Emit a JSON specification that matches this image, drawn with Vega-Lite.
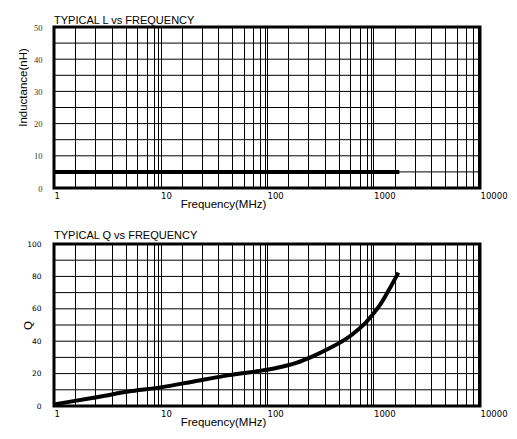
{
  "$schema": "https://vega.github.io/schema/vega-lite/v6.json",
  "background": "white",
  "padding": {"left": 15, "top": 13, "right": 5, "bottom": 5},
  "spacing": 16,
  "datasets": {
    "L": [{"f": 1, "L": 5}, {"f": 1750, "L": 5}],
    "gridL": [{"v": 5}, {"v": 10}, {"v": 15}, {"v": 20}, {"v": 25}, {"v": 30}, {"v": 35}, {"v": 40}, {"v": 45}],
    "gridQ": [{"v": 10}, {"v": 20}, {"v": 30}, {"v": 40}, {"v": 50}, {"v": 60}, {"v": 70}, {"v": 80}, {"v": 90}],
    "Q": [
      {"f": 1, "Q": 1},
      {"f": 2, "Q": 4.3},
      {"f": 3, "Q": 6.3},
      {"f": 5, "Q": 8.9},
      {"f": 10, "Q": 11.5},
      {"f": 20, "Q": 15},
      {"f": 40, "Q": 18.6},
      {"f": 80, "Q": 21.4},
      {"f": 125, "Q": 23.6},
      {"f": 188, "Q": 26.6},
      {"f": 272, "Q": 30.8},
      {"f": 385, "Q": 35.6},
      {"f": 525, "Q": 40.5},
      {"f": 635, "Q": 44.3},
      {"f": 845, "Q": 51.5},
      {"f": 1120, "Q": 61.3},
      {"f": 1395, "Q": 71.6},
      {"f": 1710, "Q": 82.3}
    ]
  },
  "vconcat": [
    {
      "title": {"text": "TYPICAL L vs FREQUENCY", "anchor": "start", "frame": "group", "font": "Liberation Sans", "fontSize": 11, "fontWeight": "normal", "color": "black", "offset": -3},
      "width": 426,
      "height": 161,
      "layer": [
        {
          "data": {"name": "gridL"},
          "mark": {"type": "rule", "color": "black", "strokeWidth": 1},
          "encoding": {
            "y": {
              "field": "v", "type": "quantitative",
              "scale": {"domain": [0, 50], "nice": false},
              "axis": {
                "title": "Inductance(nH)",
                "grid": false,
                "values": [0, 10, 20, 30, 40, 50],
                "labelFont": "Liberation Serif",
                "labelFontSize": 8.5,
                "labelColor": "#333333",
                "labelPadding": 12,
                "titleX": -26,
                "titleY": 60
              }
            }
          }
        },
        {
          "data": {"name": "L"},
          "mark": {"type": "line", "color": "black", "strokeWidth": 4, "strokeCap": "butt"},
          "encoding": {
            "x": {
              "field": "f", "type": "quantitative",
              "scale": {"type": "log", "domain": [1, 10000], "nice": false},
              "axis": {
                "title": "Frequency(MHz)",
                "grid": true,
                "values": [1, 1.59, 2.44, 3.48, 4.71, 6.04, 7.46, 8.65, 9.51, 10, 15.9, 24.4, 34.8, 47.1, 60.4, 74.6, 86.5, 95.1, 100, 159, 244, 348, 471, 604, 746, 865, 951, 1000, 1590, 2440, 3480, 4710, 6040, 7460, 8650, 9510, 10000],
                "labelExpr": "(datum.value == 1 || datum.value == 10 || datum.value == 100 || datum.value == 1000 || datum.value == 10000) ? format(datum.value, 'd') : ''",
                "labelAlign": "left",
                "labelPadding": 3,
                "titleX": 169,
                "titlePadding": -1
              }
            },
            "y": {
              "field": "L", "type": "quantitative",
              "scale": {"domain": [0, 50], "nice": false},
              "axis": {
                "title": "Inductance(nH)",
                "grid": false,
                "values": [0, 10, 20, 30, 40, 50],
                "labelFont": "Liberation Serif",
                "labelFontSize": 8.5,
                "labelColor": "#333333",
                "labelPadding": 12,
                "titleX": -26,
                "titleY": 60
              }
            }
          }
        }
      ]
    },
    {
      "title": {"text": "TYPICAL Q vs FREQUENCY", "anchor": "start", "frame": "group", "font": "Liberation Sans", "fontSize": 11, "fontWeight": "normal", "color": "black", "offset": -1},
      "width": 426,
      "height": 162,
      "layer": [
        {
          "data": {"name": "gridQ"},
          "mark": {"type": "rule", "color": "black", "strokeWidth": 1},
          "encoding": {
            "y": {
              "field": "v", "type": "quantitative",
              "scale": {"domain": [0, 100], "nice": false},
              "axis": {
                "title": "Q",
                "grid": false,
                "values": [0, 20, 40, 60, 80, 100],
                "labelFontSize": 7.5,
                "labelPadding": 13,
                "titleX": -21
              }
            }
          }
        },
        {
          "data": {"name": "Q"},
          "mark": {"type": "line", "color": "black", "strokeWidth": 4, "strokeCap": "butt", "interpolate": "catmull-rom"},
          "encoding": {
            "x": {
              "field": "f", "type": "quantitative",
              "scale": {"type": "log", "domain": [1, 10000], "nice": false},
              "axis": {
                "title": "Frequency(MHz)",
                "grid": true,
                "values": [1, 1.59, 2.44, 3.48, 4.71, 6.04, 7.46, 8.65, 9.51, 10, 15.9, 24.4, 34.8, 47.1, 60.4, 74.6, 86.5, 95.1, 100, 159, 244, 348, 471, 604, 746, 865, 951, 1000, 1590, 2440, 3480, 4710, 6040, 7460, 8650, 9510, 10000],
                "labelExpr": "(datum.value == 1 || datum.value == 10 || datum.value == 100 || datum.value == 1000 || datum.value == 10000) ? format(datum.value, 'd') : ''",
                "labelAlign": "left",
                "labelPadding": 3,
                "titleX": 169,
                "titlePadding": -1
              }
            },
            "y": {
              "field": "Q", "type": "quantitative",
              "scale": {"domain": [0, 100], "nice": false},
              "axis": {
                "title": "Q",
                "grid": false,
                "values": [0, 20, 40, 60, 80, 100],
                "labelFontSize": 7.5,
                "labelPadding": 13,
                "titleX": -21
              }
            }
          }
        }
      ]
    }
  ],
  "config": {
    "view": {"stroke": "black", "strokeWidth": 3},
    "axis": {
      "domain": false,
      "ticks": false,
      "tickSize": 0,
      "gridColor": "black",
      "gridOpacity": 1,
      "gridWidth": 1,
      "labelOverlap": false,
      "labelFont": "DejaVu Sans",
      "labelFontSize": 8.5,
      "labelColor": "black",
      "titleFont": "Liberation Sans",
      "titleFontSize": 11.5,
      "titleFontWeight": "normal",
      "titleColor": "black"
    }
  }
}
